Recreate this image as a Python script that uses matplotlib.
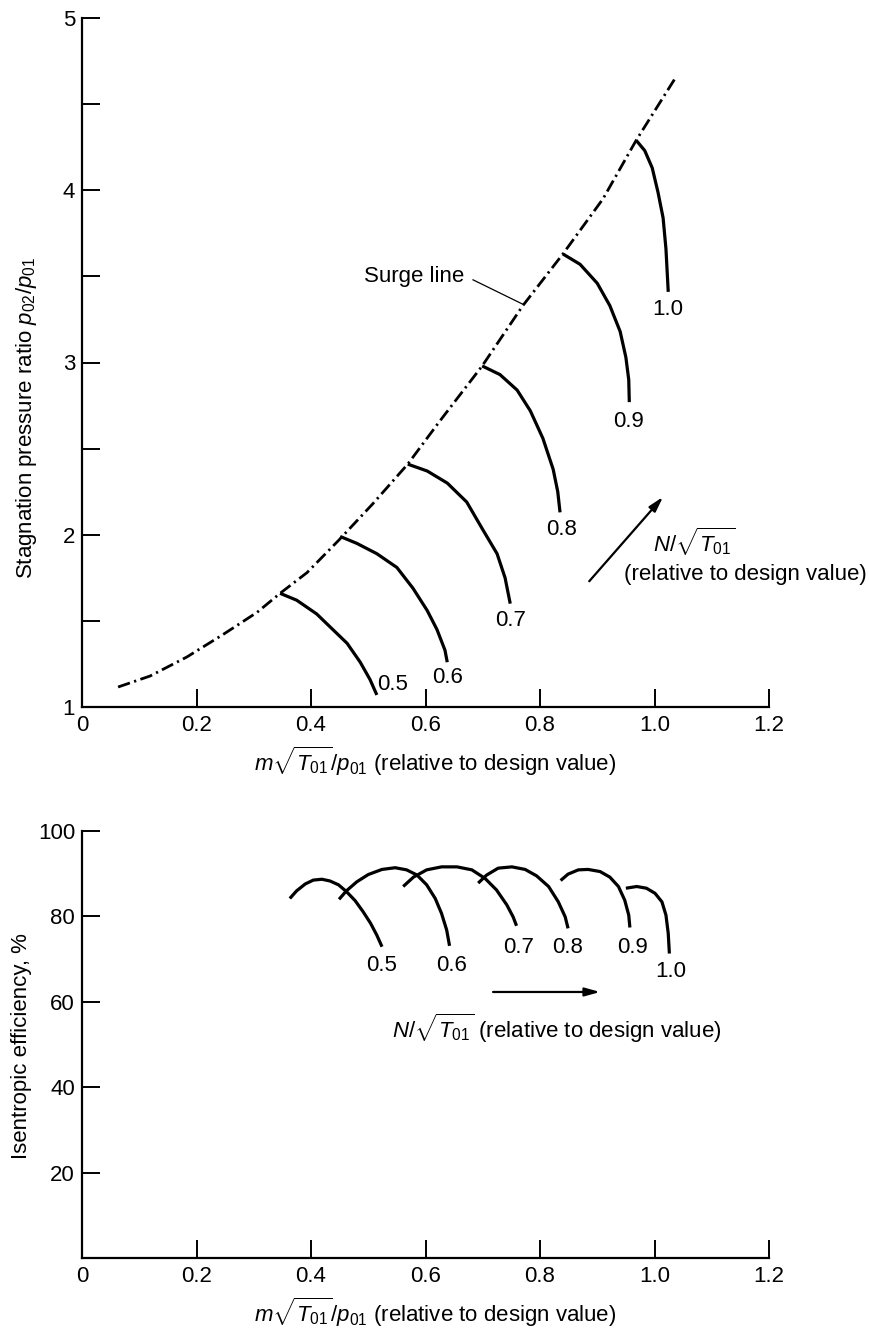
import matplotlib
matplotlib.use("Agg")
import matplotlib.pyplot as plt

plt.rcParams['font.family'] = ['Liberation Sans', 'DejaVu Sans']
plt.rcParams['mathtext.fontset'] = 'custom'
plt.rcParams['mathtext.rm'] = 'Liberation Sans'
plt.rcParams['mathtext.it'] = 'Liberation Sans:italic'
plt.rcParams['mathtext.bf'] = 'Liberation Sans:bold'

# ---------------- data (top: pressure ratio map) ----------------
speed_labels = ['0.5', '0.6', '0.7', '0.8', '0.9', '1.0']

surge_x = [0.063, 0.119, 0.183, 0.246, 0.306, 0.346, 0.393, 0.449, 0.508, 0.569,
           0.625, 0.699, 0.770, 0.840, 0.910, 0.968, 1.038]
surge_y = [1.116, 1.18, 1.29, 1.42, 1.55, 1.66, 1.78, 1.97, 2.18, 2.41,
           2.66, 2.98, 3.33, 3.63, 3.95, 4.29, 4.66]

pr_x = [
    [0.346, 0.375, 0.410, 0.438, 0.463, 0.486, 0.503, 0.515],
    [0.451, 0.480, 0.515, 0.550, 0.578, 0.603, 0.620, 0.634, 0.638],
    [0.569, 0.603, 0.638, 0.672, 0.700, 0.725, 0.739, 0.748],
    [0.699, 0.730, 0.760, 0.783, 0.805, 0.823, 0.831, 0.835],
    [0.840, 0.870, 0.900, 0.922, 0.940, 0.950, 0.955, 0.956],
    [0.968, 0.983, 0.996, 1.006, 1.015, 1.020, 1.024],
]
pr_y = [
    [1.66, 1.62, 1.54, 1.45, 1.37, 1.26, 1.16, 1.07],
    [1.99, 1.95, 1.89, 1.81, 1.69, 1.56, 1.45, 1.33, 1.26],
    [2.41, 2.37, 2.30, 2.19, 2.03, 1.89, 1.75, 1.60],
    [2.98, 2.93, 2.84, 2.72, 2.56, 2.38, 2.25, 2.13],
    [3.63, 3.57, 3.46, 3.33, 3.18, 3.03, 2.90, 2.77],
    [4.29, 4.23, 4.13, 3.99, 3.84, 3.66, 3.41],
]
pr_label_x = [0.543, 0.638, 0.748, 0.838, 0.954, 1.024]
pr_label_y = [1.13, 1.17, 1.50, 2.03, 2.66, 3.31]

# ---------------- data (bottom: efficiency) ----------------
eff_x = [
    [0.363, 0.375, 0.390, 0.404, 0.419, 0.433, 0.448, 0.462, 0.477, 0.491, 0.504, 0.515, 0.524],
    [0.449, 0.462, 0.480, 0.500, 0.524, 0.547, 0.567, 0.585, 0.602, 0.617, 0.628, 0.637, 0.642],
    [0.561, 0.579, 0.602, 0.628, 0.655, 0.681, 0.704, 0.724, 0.742, 0.753, 0.759],
    [0.692, 0.707, 0.727, 0.751, 0.774, 0.794, 0.815, 0.832, 0.844, 0.849],
    [0.836, 0.849, 0.867, 0.884, 0.905, 0.922, 0.937, 0.948, 0.955, 0.957],
    [0.950, 0.969, 0.986, 1.001, 1.013, 1.020, 1.024, 1.026],
]
eff_y = [
    [84.2, 86.0, 87.6, 88.5, 88.7, 88.3, 87.4, 85.8, 83.7, 81.1, 78.4, 75.6, 72.9],
    [84.0, 86.0, 88.1, 89.8, 91.0, 91.4, 90.9, 89.7, 87.4, 84.2, 80.7, 76.8, 73.1],
    [87.0, 89.2, 90.9, 91.6, 91.6, 90.9, 88.9, 86.2, 82.7, 79.9, 77.8],
    [87.8, 89.7, 91.3, 91.6, 91.0, 89.5, 87.0, 83.4, 79.9, 77.2],
    [88.4, 89.9, 90.9, 91.0, 90.5, 89.2, 87.0, 83.8, 80.3, 77.4],
    [86.6, 87.0, 86.6, 85.4, 83.4, 80.3, 76.0, 71.3],
]
eff_label_x = [0.524, 0.646, 0.762, 0.849, 0.961, 1.029]
eff_label_y = [68.4, 68.4, 72.6, 72.6, 72.6, 67.0]

x_ticks = [0, 0.2, 0.4, 0.6, 0.8, 1.0, 1.2]
x_ticklabels = ['0', '0.2', '0.4', '0.6', '0.8', '1.0', '1.2']
pr_yticks = [1, 1.5, 2, 2.5, 3, 3.5, 4, 4.5, 5]
pr_yticklabels = ['1', '', '2', '', '3', '', '4', '', '5']
eff_yticks = [20, 40, 60, 80, 100]
eff_yticklabels = ['20', '40', '60', '80', '100']

FS = 16
LW = 2.3

fig = plt.figure(figsize=(8.69, 13.33), dpi=100)
W, H = 869.0, 1333.0

def style(ax):
    ax.spines['top'].set_visible(False)
    ax.spines['right'].set_visible(False)
    for s in ('left', 'bottom'):
        ax.spines[s].set_linewidth(1.6)
    ax.tick_params(direction='in', length=13, width=1.4, labelsize=FS, pad=5)
    ax.set_xticks(x_ticks)
    ax.set_xticklabels(x_ticklabels)
    ax.tick_params(axis='x', pad=6)

# ---------------- top axes ----------------
ax1 = fig.add_axes([82 / W, 1 - 707 / H, 687 / W, 689 / H])
ax1.set_xlim(0, 1.2)
ax1.set_ylim(1, 5)
style(ax1)
ax1.set_yticks(pr_yticks)
ax1.set_yticklabels(pr_yticklabels)

ax1.plot(surge_x, surge_y, color='black', lw=2.0, dashes=(4.5, 1.6, 0.8, 1.6),
         solid_capstyle='butt')
for xs, ys, lab, lx, ly in zip(pr_x, pr_y, speed_labels, pr_label_x, pr_label_y):
    ax1.plot(xs, ys, color='black', lw=LW, solid_joinstyle='round', solid_capstyle='butt')
    ax1.text(lx, ly, lab, fontsize=FS, ha='center', va='center')

# surge label and leader
ax1.text(0.58, 3.50, 'Surge line', fontsize=FS, ha='center', va='center')
ax1.plot([0.683, 0.769], [3.48, 3.34], color='black', lw=0.9)

# speed arrow
ax1.annotate('', xy=(1.015, 2.22), xytext=(0.886, 1.73),
             arrowprops=dict(arrowstyle='-|>,head_length=0.9,head_width=0.25',
                             lw=1.6, color='black', shrinkA=0, shrinkB=0))
ax1.text(0.997, 1.96, r'$N/\sqrt{T_{01}}$', fontsize=FS, ha='left', va='center')
ax1.text(1.158, 1.77, '(relative to design value)', fontsize=FS, ha='center', va='center')

fig.text(27 / W, 1 - 418 / H, r'Stagnation pressure ratio $p_{02}/p_{01}$',
         rotation=90, fontsize=FS, ha='center', va='center')
fig.text(435 / W, 1 - 771 / H, r'$m\sqrt{T_{01}}/p_{01}$ (relative to design value)',
         fontsize=FS, ha='center', va='baseline')

# ---------------- bottom axes ----------------
ax2 = fig.add_axes([82 / W, 1 - 1258 / H, 687 / W, 427 / H])
ax2.set_xlim(0, 1.2)
ax2.set_ylim(0, 100)
style(ax2)
ax2.set_yticks(eff_yticks)
ax2.set_yticklabels(eff_yticklabels)

for xs, ys, lab, lx, ly in zip(eff_x, eff_y, speed_labels, eff_label_x, eff_label_y):
    ax2.plot(xs, ys, color='black', lw=LW, solid_joinstyle='round', solid_capstyle='butt')
    ax2.text(lx, ly, lab, fontsize=FS, ha='center', va='center')

ax2.annotate('', xy=(0.905, 62.3), xytext=(0.718, 62.3),
             arrowprops=dict(arrowstyle='-|>,head_length=0.9,head_width=0.25',
                             lw=1.6, color='black', shrinkA=0, shrinkB=0))
ax2.text(0.541, 53.9, r'$N/\sqrt{T_{01}}$ (relative to design value)', fontsize=FS,
         ha='left', va='center')

fig.text(22 / W, 1 - 1046 / H, 'Isentropic efficiency, %', rotation=90,
         fontsize=FS, ha='center', va='center')
fig.text(435 / W, 1 - 1322 / H, r'$m\sqrt{T_{01}}/p_{01}$ (relative to design value)',
         fontsize=FS, ha='center', va='baseline')

fig.savefig('out.png', dpi=100, facecolor='white')
